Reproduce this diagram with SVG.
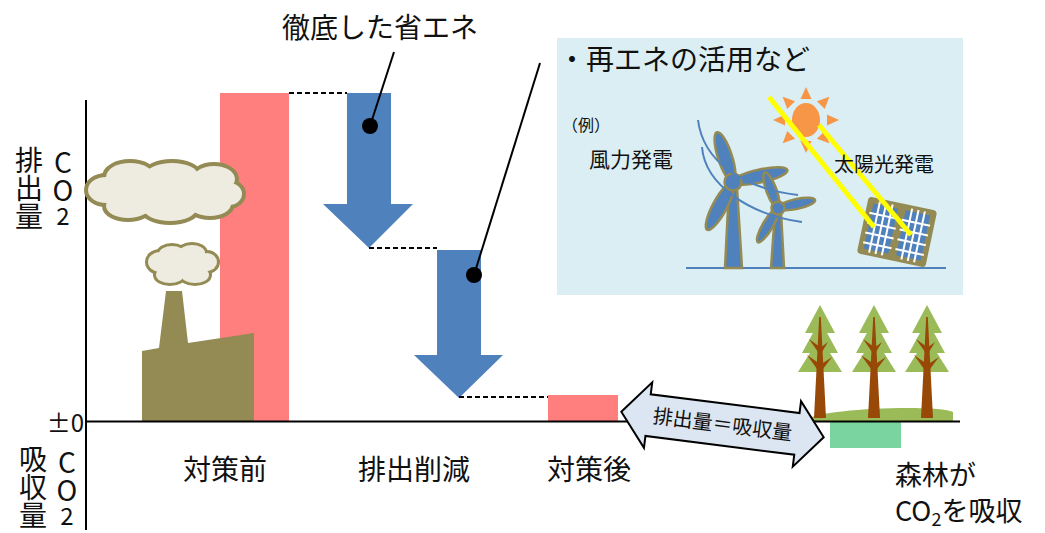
<svg xmlns="http://www.w3.org/2000/svg" xmlns:xlink="http://www.w3.org/1999/xlink" width="1045" height="533" viewBox="0 0 1045 533">
  <style>
    text { font-family: "Noto Sans CJK JP", "Noto Sans", sans-serif; fill: #111; }
    .t28 { font-size: 28px; }
    .t21 { font-size: 21px; }
    .vert { writing-mode: vertical-rl; text-orientation: upright; font-size: 28px; }
    .axis { stroke: #000; stroke-width: 2; fill: none; }
    .dash { stroke: #000; stroke-width: 1.8; stroke-dasharray: 5 3; fill: none; }
    .leader { stroke: #000; stroke-width: 2; fill: none; }
    .bar { fill: #FF7F7F; }
    .drop { fill: #4F81BD; }
    .cloud-edge { fill: #948A54; stroke: #948A54; stroke-width: 8; }
    .cloud-edge-s { fill: #948A54; stroke: #948A54; stroke-width: 6; }
    .cloud-fill { fill: #EEECE1; }
    .blade { fill: #4F81BD; stroke: #948A54; stroke-width: 2.5; }
    .wind { stroke: #4F81BD; stroke-width: 2; fill: none; }
    .ray { fill: #F79646; }
    .beam { stroke: #FFFF00; stroke-width: 5; stroke-linecap: butt; }
    .grid { stroke: #fff; stroke-width: 2; }
  </style>
  <defs>
    <g id="bigCloudShape">
      <ellipse cx="165" cy="193" rx="65" ry="22"/>
      <ellipse cx="106" cy="190" rx="18" ry="13"/>
      <ellipse cx="130" cy="177" rx="24" ry="14"/>
      <ellipse cx="172" cy="175" rx="26" ry="12"/>
      <ellipse cx="214" cy="179" rx="21" ry="13"/>
      <ellipse cx="229" cy="194" rx="13" ry="11"/>
      <ellipse cx="128" cy="206" rx="22" ry="12"/>
      <ellipse cx="170" cy="209" rx="26" ry="12"/>
      <ellipse cx="210" cy="204" rx="21" ry="12"/>
    </g>
    <g id="smallCloudShape">
      <ellipse cx="182" cy="265" rx="30" ry="12"/>
      <ellipse cx="160" cy="262" rx="12" ry="10"/>
      <ellipse cx="172" cy="254" rx="13" ry="8"/>
      <ellipse cx="192" cy="253" rx="13" ry="8"/>
      <ellipse cx="207" cy="262" rx="10" ry="9"/>
      <ellipse cx="170" cy="275" rx="14" ry="8"/>
      <ellipse cx="195" cy="275" rx="14" ry="8"/>
    </g>
    <!-- conifer, apex at (0,0) -->
    <g id="tree">
      <g fill="#9BBB59">
        <polygon points="0,0 -15,28 15,28"/>
        <polygon points="0,15 -18,48 18,48"/>
        <polygon points="0,32 -22,67 22,67"/>
      </g>
      <g fill="#984807">
        <polygon points="-0.8,12 0.8,12 6,113 -6,113"/>
        <polygon points="-2,47 -11,34 0,42"/>
        <polygon points="2,47 8,37 0,43"/>
        <polygon points="-3,64 -13,50 0,59"/>
        <polygon points="3,64 12,52 0,60"/>
      </g>
    </g>
    <polygon id="ray" points="0,-33 -5.5,-21 5.5,-21"/>
  </defs>

  <!-- axes -->
  <g id="axes">
    <line class="axis" x1="86" y1="100" x2="86" y2="530"/>
  </g>

  <!-- emission bars -->
  <g id="bar-before">
    <rect class="bar" x="220" y="93" width="69" height="329"/>
  </g>
  <g id="bar-after">
    <rect class="bar" x="548" y="395" width="70" height="27"/>
  </g>

  <!-- factory with smoke -->
  <g id="factory">
    <polygon fill="#948A54" points="142,351 159,348 166,291 182,291 188,343 254,333 254,422 142,422"/>
    <use xlink:href="#smallCloudShape" class="cloud-edge-s"/>
    <use xlink:href="#smallCloudShape" class="cloud-fill"/>
    <use xlink:href="#bigCloudShape" class="cloud-edge"/>
    <use xlink:href="#bigCloudShape" class="cloud-fill"/>
  </g>

  <!-- reduction arrows -->
  <g id="arrow-saving">
    <polygon class="drop" points="347,93 391,93 391,204 413,204 369,248 323,204 347,204"/>
  </g>
  <g id="arrow-renewable">
    <polygon class="drop" points="437,250 481,250 481,355 503,355 459,398 414,355 437,355"/>
  </g>

  <!-- renewable energy panel -->
  <g id="box-renewable">
    <rect x="557" y="38" width="406" height="257" fill="#DAEEF3"/>
    <line x1="686" y1="268" x2="946" y2="268" stroke="#4F81BD" stroke-width="2"/>
    <!-- large turbine -->
    <polygon class="blade" points="729,188 737,188 742,268 725,268"/>
    <ellipse class="blade" cx="725" cy="157" rx="26" ry="7" transform="rotate(72 725 157)"/>
    <ellipse class="blade" cx="760" cy="176" rx="28" ry="6.5" transform="rotate(-12.3 760 176)"/>
    <ellipse class="blade" cx="720" cy="206" rx="27" ry="7" transform="rotate(118.4 720 206)"/>
    <circle class="blade" cx="733" cy="182" r="8.5"/>
    <!-- small turbine -->
    <polygon class="blade" points="775,212 781,212 784,268 771,268"/>
    <ellipse class="blade" cx="771.5" cy="190.5" rx="19" ry="5" transform="rotate(69.6 771.5 190.5)"/>
    <ellipse class="blade" cx="796.5" cy="204" rx="19" ry="5" transform="rotate(-12.2 796.5 204)"/>
    <ellipse class="blade" cx="768" cy="225" rx="20" ry="5" transform="rotate(120.5 768 225)"/>
    <circle class="blade" cx="778" cy="208" r="6.5"/>
    <path class="wind" d="M698,120 C703,160 740,188 798,195"/>
    <path class="wind" d="M702,147 C705,185 750,215 802,222"/>
    <!-- sun -->
    <g transform="translate(806,120)">
      <use xlink:href="#ray" class="ray"/>
      <use xlink:href="#ray" class="ray" transform="rotate(45)"/>
      <use xlink:href="#ray" class="ray" transform="rotate(90)"/>
      <use xlink:href="#ray" class="ray" transform="rotate(135)"/>
      <use xlink:href="#ray" class="ray" transform="rotate(180)"/>
      <use xlink:href="#ray" class="ray" transform="rotate(225)"/>
      <use xlink:href="#ray" class="ray" transform="rotate(270)"/>
      <use xlink:href="#ray" class="ray" transform="rotate(315)"/>
      <ellipse cx="0" cy="0" rx="14" ry="17" fill="#F79646"/>
    </g>
    <!-- solar panel -->
    <g transform="translate(897,232) rotate(12)">
      <rect x="-35" y="-29" width="70" height="58" rx="4" fill="#948A54"/>
      <rect x="-29" y="-23" width="25" height="46" fill="#4F81BD"/>
      <rect x="4" y="-23" width="25" height="46" fill="#4F81BD"/>
      <g class="grid">
        <line x1="-23" y1="-26" x2="-23" y2="26"/>
        <line x1="-16.5" y1="-26" x2="-16.5" y2="26"/>
        <line x1="-10" y1="-26" x2="-10" y2="26"/>
        <line x1="-31" y1="-13" x2="-2" y2="-13"/>
        <line x1="-31" y1="-3" x2="-2" y2="-3"/>
        <line x1="-31" y1="7" x2="-2" y2="7"/>
        <line x1="-31" y1="17" x2="-2" y2="17"/>
        <line x1="10" y1="-26" x2="10" y2="26"/>
        <line x1="16.5" y1="-26" x2="16.5" y2="26"/>
        <line x1="23" y1="-26" x2="23" y2="26"/>
        <line x1="2" y1="-13" x2="31" y2="-13"/>
        <line x1="2" y1="-3" x2="31" y2="-3"/>
        <line x1="2" y1="7" x2="31" y2="7"/>
        <line x1="2" y1="17" x2="31" y2="17"/>
      </g>
    </g>
    <line class="beam" x1="769" y1="97" x2="874" y2="227"/>
    <line class="beam" x1="819" y1="125" x2="911" y2="235"/>
    <text class="t28" x="558" y="70">・再エネの活用など</text>
    <text x="562" y="131" font-size="16">（例）</text>
    <text class="t21" x="589" y="167">風力発電</text>
    <text font-size="20" x="834" y="172">太陽光発電</text>
  </g>

  <!-- forest -->
  <g id="forest">
    <path d="M805,421 C812,408 940,404 953,412 L953,421 Z" fill="#9BBB59"/>
    <use xlink:href="#tree" transform="translate(820,305)"/>
    <use xlink:href="#tree" transform="translate(874,305)"/>
    <use xlink:href="#tree" transform="translate(927,305)"/>
  </g>
  <g id="bar-absorb">
    <rect x="830" y="422" width="71" height="26" fill="#79D49F"/>
  </g>

  <!-- zero line -->
  <g id="zero-line">
    <line class="axis" x1="86" y1="421.5" x2="960" y2="421.5"/>
  </g>

  <!-- balance arrow -->
  <g id="arrow-balance" transform="translate(722.5,424.5) rotate(7.2)">
    <polygon points="-102,0 -75,-33 -75,-21 75,-21 75,-33 102,0 75,33 75,21 -75,21 -75,33" fill="#DCE6F2" stroke="#000" stroke-width="2" stroke-linejoin="miter"/>
    <text x="0" y="7" font-size="20" text-anchor="middle">排出量＝吸収量</text>
  </g>

  <!-- connectors -->
  <g id="connectors">
    <line class="dash" x1="289" y1="93" x2="347" y2="93"/>
    <line class="dash" x1="369" y1="248" x2="437" y2="248"/>
    <line class="dash" x1="459" y1="397" x2="548" y2="397"/>
    <line class="leader" x1="370" y1="126" x2="394" y2="52"/>
    <circle cx="370" cy="126" r="8" fill="#000"/>
    <line class="leader" x1="474" y1="275" x2="540" y2="63"/>
    <circle cx="474" cy="275" r="8" fill="#000"/>
  </g>

  <!-- labels -->
  <g id="labels">
    <text class="t28" x="282" y="38">徹底した省エネ</text>
    <text class="t28" x="183" y="480">対策前</text>
    <text class="t28" x="358" y="480">排出削減</text>
    <text class="t28" x="547" y="480">対策後</text>
    <text font-size="24" x="84" y="432" text-anchor="end">±0</text>
    <!-- vertical axis captions -->
    <text class="vert" x="29" y="146">排出量</text>
    <text class="vert" x="63" y="148">CO<tspan font-size="24">2</tspan></text>
    <text class="vert" x="33" y="445">吸収量</text>
    <text class="vert" x="67" y="448">CO<tspan font-size="24">2</tspan></text>
    <text font-size="27" x="895" y="485">森林が</text>
    <text font-size="27" x="895" y="521">CO<tspan font-size="18" dy="5">2</tspan><tspan dy="-5">を吸収</tspan></text>
  </g>
</svg>
